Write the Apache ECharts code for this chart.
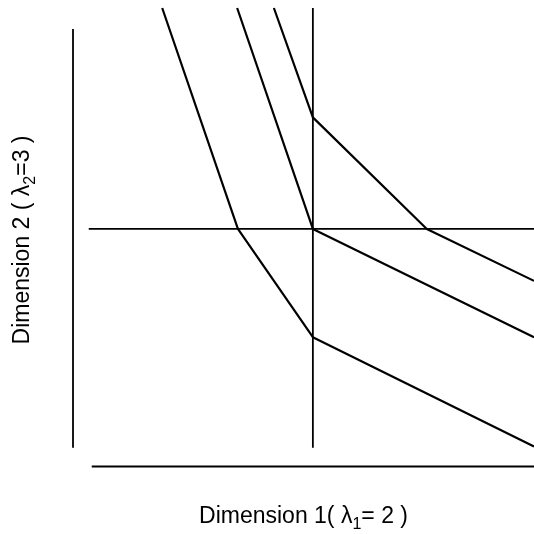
<!DOCTYPE html>
<html>
<head>
<meta charset="utf-8">
<script src="https://cdn.jsdelivr.net/npm/echarts@6/dist/echarts.min.js"></script>
<style>html,body{margin:0;padding:0;background:#fff}#c{width:534px;height:534px}</style>
</head>
<body>
<div id="c"></div>
<script>
// Axis titles (λ subscripts drawn as rich-text tokens)
const xLabelParts = ['Dimension 1( λ', '1', '= 2 )'];
const yLabelParts = ['Dimension 2 ( λ', '2', '=3 )'];
// Conceptual units: origin at the reference point (λ1, λ2)
// Three contours (x, y)
const contour1 = [[-2.01, 2.0], [-1.0, 0], [0, -0.98], [2.95, -1.97]];
const contour2 = [[-1.01, 2.0], [0, 0], [2.95, -0.98]];
const contour3 = [[-0.52, 2.0], [0, 1.01], [1.52, 0], [2.95, -0.47]];
// Reference lines through the point
const refVertical = [[0, 2.0], [0, -1.98]];
const refHorizontal = [[-2.99, 0], [2.95, 0]];
// Frame axes
const axisLeft = [[-3.2, 1.81], [-3.2, -1.98]];
const axisBottom = [[-2.95, -2.15], [2.95, -2.15]];

const lineSeries = (data, w) => ({
  type: 'line', data: data, symbol: 'none', silent: true,
  lineStyle: { color: '#000', width: w }, clip: true
});
const richStyle = {
  t: { fontFamily: 'Liberation Sans', fontSize: 23, color: '#000' },
  s: { fontFamily: 'Liberation Sans', fontSize: 16, color: '#000', padding: [16, 0, 0, 0] }
};
const richName = p => '{t|' + p[0] + '}{s|' + p[1] + '}{t|' + p[2] + '}';

const chart = echarts.init(document.getElementById('c'), null, { renderer: 'canvas' });
chart.setOption({
  animation: false,
  backgroundColor: '#fff',
  grid: { left: 73, top: 8, width: 461, height: 464, containLabel: false, outerBoundsMode: 'none' },
  xAxis: {
    type: 'value', min: -3.2, max: 2.95,
    axisLine: { show: false }, axisTick: { show: false }, axisLabel: { show: false }, splitLine: { show: false },
    name: richName(xLabelParts), nameLocation: 'middle', nameGap: 29,
    nameTextStyle: { rich: richStyle }
  },
  yAxis: {
    type: 'value', min: -2.2, max: 2.0,
    axisLine: { show: false }, axisTick: { show: false }, axisLabel: { show: false }, splitLine: { show: false },
    name: richName(yLabelParts), nameLocation: 'middle', nameGap: 34, nameRotate: 90,
    nameTextStyle: { rich: richStyle }
  },
  series: [
    lineSeries(axisLeft, 1.8),
    lineSeries(axisBottom, 1.8),
    lineSeries(refVertical, 1.8),
    lineSeries(refHorizontal, 1.8),
    lineSeries(contour1, 2.2),
    lineSeries(contour2, 2.2),
    lineSeries(contour3, 2.2)
  ]
});
</script>
</body>
</html>
